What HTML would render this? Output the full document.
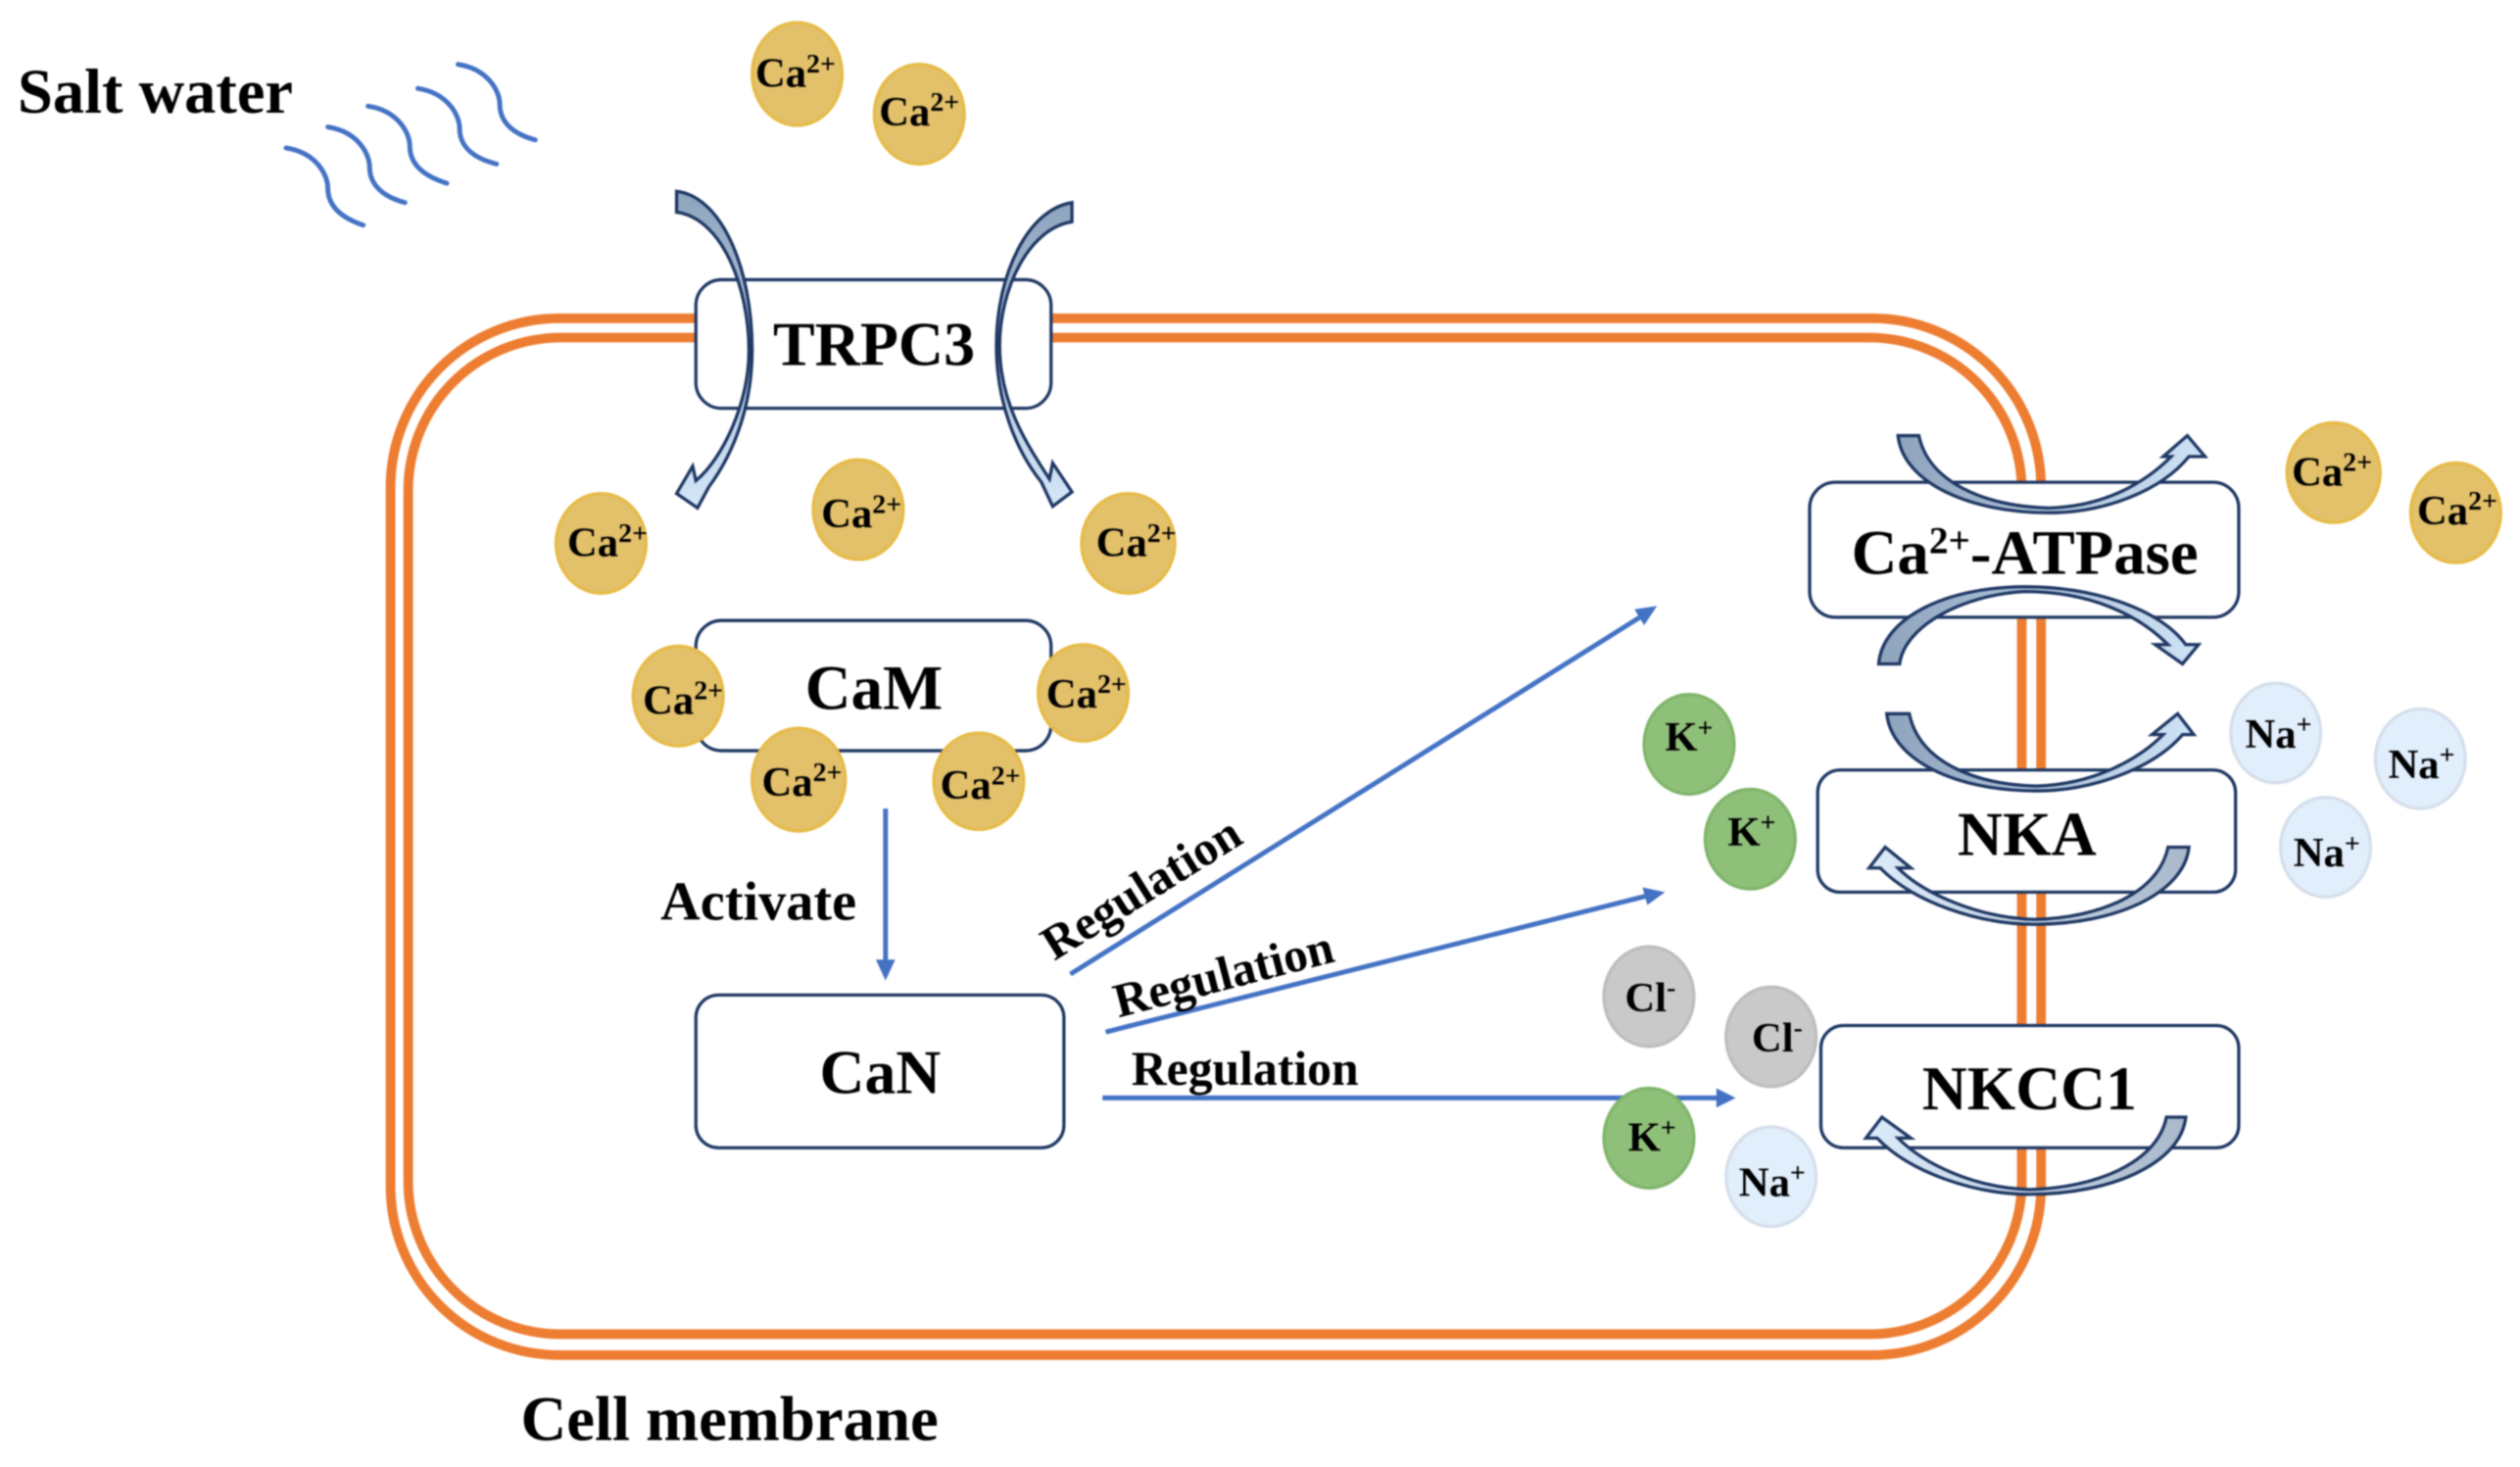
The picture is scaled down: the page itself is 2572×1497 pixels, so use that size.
<!DOCTYPE html>
<html>
<head>
<meta charset="utf-8">
<style>
html,body{margin:0;padding:0;background:#fff;width:2572px;height:1497px;overflow:hidden}
svg{display:block;filter:blur(.8px)}
text{font-family:"Liberation Serif",serif;font-weight:bold;fill:#000}
.i{font-size:26px}
.i tspan{font-size:17px}
.b{fill:#fff;stroke:#1f3864;stroke-width:2}
.m{fill:none;stroke:#ed7d31;stroke-width:6}
.ca{fill:#e3c06a;stroke:#e6bb48;stroke-width:2}
.k{fill:#8fc07a;stroke:#7fb56a;stroke-width:2}
.cl{fill:#c9c9c9;stroke:#bdbdbd;stroke-width:2}
.na{fill:#e1eefb;stroke:#d5dfeb;stroke-width:2}
.w{fill:none;stroke:#4472c4;stroke-width:3;stroke-linecap:round}
.l{stroke:#4472c4;stroke-width:3;fill:none}
.h{fill:#4472c4}
.a{stroke:#1f3864;stroke-width:2;stroke-linejoin:miter}
</style>
</head>
<body>
<svg xmlns="http://www.w3.org/2000/svg" width="2572" height="1497" viewBox="0 0 1568 912.6">
<defs>
<linearGradient id="gv" x1="0" y1="0" x2="0" y2="1"><stop offset="0" stop-color="#8ea4bd"/><stop offset="1" stop-color="#d4e6f8"/></linearGradient>
<linearGradient id="gr" x1="0" y1="0" x2="1" y2="0"><stop offset="0" stop-color="#8ea3bc"/><stop offset="1" stop-color="#cfe3f6"/></linearGradient>
<linearGradient id="gl" x1="1" y1="0" x2="0" y2="0"><stop offset="0" stop-color="#a9b8ca"/><stop offset="1" stop-color="#dcebfa"/></linearGradient>
</defs>
<rect width="1568" height="912.6" fill="#fff"/>

<!-- waves -->
<g class="w">
<path d="M178,92 C197,95 204,109 204,117 C204,127 211,135 226,140"/>
<path d="M204,79 C223,82 230,96 230,104 C230,114 237,122 252,126"/>
<path d="M229,66 C248,69 255,83 255,91 C255,101 262,109 278,114"/>
<path d="M260,55 C279,58 286,72 286,80 C286,90 293,98 309,102"/>
<path d="M285,40 C304,43 311,57 311,65 C311,75 318,83 333,87"/>
</g>

<!-- membrane -->
<rect class="m" x="243" y="198" width="1027" height="645" rx="105" ry="105"/>
<rect class="m" x="254" y="210" width="1004" height="620" rx="95" ry="95"/>

<!-- boxes -->
<rect class="b" x="433" y="174" width="221" height="80" rx="16"/>
<rect class="b" x="433" y="386" width="221" height="81" rx="16"/>
<rect class="b" x="433" y="619" width="229" height="95" rx="14"/>
<rect class="b" x="1126" y="300" width="267" height="84" rx="16"/>
<rect class="b" x="1131" y="479" width="260" height="76" rx="14"/>
<rect class="b" x="1133" y="638" width="260" height="76" rx="14"/>

<!-- blue arrows -->
<line class="l" x1="551" y1="503" x2="551" y2="600"/>
<polygon class="h" points="545,597 557,597 551,610"/>
<line class="l" x1="666" y1="606" x2="1022" y2="383"/>
<polygon class="h" points="1031,377 1017,379 1023,389"/>
<line class="l" x1="688" y1="642" x2="1026" y2="557"/>
<polygon class="h" points="1036,555 1022,552 1025,563"/>
<line class="l" x1="686" y1="683" x2="1070" y2="683"/>
<polygon class="h" points="1080,683 1068,677 1068,689"/>

<!-- block arrows -->
<path class="a" fill="url(#gv)" d="M421,119 C448,122 468,165 468,218 C468,250 458,280 441,303 L434,316 L421,307 L431,290 L433,299 C450,285 466,250 466,218 C466,180 450,136 421,132 Z"/>
<path class="a" fill="url(#gv)" d="M667,126 C640,130 620,170 620,215 C620,250 632,280 648,300 L655,315 L667,306 L655,288 L653,298 C638,275 622,250 622,215 C622,180 640,142 667,138 Z"/>
<path class="a" fill="url(#gr)" d="M1181,271 C1184,300 1225,319 1275,319 C1310,319 1345,305 1362,284 L1372,284 L1361,271 L1346,284 L1351,284 C1335,300 1310,315 1275,316 C1235,315 1200,300 1194,271 Z"/>
<path class="a" fill="url(#gr)" d="M1169,413 C1171,385 1210,365 1260,365 C1305,365 1345,380 1360,401 L1368,401 L1358,413 L1341,401 L1349,401 C1330,382 1300,368 1260,368 C1220,370 1185,390 1182,413 Z"/>
<path class="a" fill="url(#gr)" d="M1174,444 C1177,473 1217,492 1267,492 C1302,492 1340,478 1358,457 L1365,457 L1355,444 L1339,457 L1346,457 C1330,473 1302,488 1267,489 C1227,488 1194,473 1188,444 Z"/>
<path class="a" fill="url(#gl)" d="M1362,527 C1359,556 1316,575 1266,575 C1231,575 1190,561 1170,540 L1163,540 L1173,527 L1189,540 L1181,540 C1197,556 1231,571 1266,572 C1306,571 1343,556 1349,527 Z"/>
<path class="a" fill="url(#gl)" d="M1360,695 C1357,724 1313,743 1263,743 C1228,743 1188,729 1168,708 L1161,708 L1171,695 L1189,708 L1181,708 C1197,724 1228,739 1263,740 C1303,739 1342,724 1348,695 Z"/>

<!-- ions -->
<ellipse class="ca" cx="496" cy="46" rx="28" ry="32"/>
<ellipse class="ca" cx="572" cy="71" rx="28" ry="31"/>
<ellipse class="ca" cx="374" cy="338" rx="28" ry="31"/>
<ellipse class="ca" cx="534" cy="317" rx="28" ry="31"/>
<ellipse class="ca" cx="702" cy="338" rx="29" ry="31"/>
<ellipse class="ca" cx="422" cy="433" rx="28" ry="31"/>
<ellipse class="ca" cx="674" cy="431" rx="28" ry="30"/>
<ellipse class="ca" cx="497" cy="485" rx="29" ry="32"/>
<ellipse class="ca" cx="609" cy="486" rx="28" ry="30"/>
<ellipse class="ca" cx="1452" cy="294" rx="29" ry="31"/>
<ellipse class="ca" cx="1528" cy="319" rx="28" ry="31"/>
<ellipse class="k" cx="1051" cy="463" rx="28" ry="31"/>
<ellipse class="k" cx="1089" cy="522" rx="28" ry="31"/>
<ellipse class="k" cx="1026" cy="708" rx="28" ry="31"/>
<ellipse class="cl" cx="1026" cy="620" rx="28" ry="31"/>
<ellipse class="cl" cx="1102" cy="645" rx="28" ry="31"/>
<ellipse class="na" cx="1416" cy="456" rx="28" ry="31"/>
<ellipse class="na" cx="1506" cy="472" rx="28" ry="31"/>
<ellipse class="na" cx="1447" cy="527" rx="28" ry="31"/>
<ellipse class="na" cx="1102" cy="732" rx="28" ry="31"/>

<!-- ion labels -->
<text class="i" x="470" y="54">Ca<tspan dy="-9">2+</tspan></text>
<text class="i" x="547" y="78">Ca<tspan dy="-9">2+</tspan></text>
<text class="i" x="353" y="346">Ca<tspan dy="-9">2+</tspan></text>
<text class="i" x="511" y="328">Ca<tspan dy="-9">2+</tspan></text>
<text class="i" x="682" y="346">Ca<tspan dy="-9">2+</tspan></text>
<text class="i" x="400" y="444">Ca<tspan dy="-9">2+</tspan></text>
<text class="i" x="651" y="440">Ca<tspan dy="-9">2+</tspan></text>
<text class="i" x="474" y="495">Ca<tspan dy="-9">2+</tspan></text>
<text class="i" x="585" y="497">Ca<tspan dy="-9">2+</tspan></text>
<text class="i" x="1426" y="302">Ca<tspan dy="-9">2+</tspan></text>
<text class="i" x="1504" y="326">Ca<tspan dy="-9">2+</tspan></text>
<text class="i" x="1036" y="467">K<tspan dy="-9">+</tspan></text>
<text class="i" x="1075" y="526">K<tspan dy="-9">+</tspan></text>
<text class="i" x="1013" y="716">K<tspan dy="-9">+</tspan></text>
<text class="i" x="1011" y="629">Cl<tspan dy="-9">-</tspan></text>
<text class="i" x="1090" y="654">Cl<tspan dy="-9">-</tspan></text>
<text class="i" x="1397" y="465">Na<tspan dy="-9">+</tspan></text>
<text class="i" x="1486" y="484">Na<tspan dy="-9">+</tspan></text>
<text class="i" x="1427" y="539">Na<tspan dy="-9">+</tspan></text>
<text class="i" x="1082" y="744">Na<tspan dy="-9">+</tspan></text>

<!-- main labels -->
<text x="481" y="227" font-size="39">TRPC3</text>
<text x="501" y="441" font-size="39.5">CaM</text>
<text x="510" y="680" font-size="38.8">CaN</text>
<text x="1152" y="357" font-size="39.5">Ca<tspan font-size="24" dy="-13">2+</tspan><tspan dy="13">-ATPase</tspan></text>
<text x="1218" y="532" font-size="38.9">NKA</text>
<text x="1196" y="690" font-size="38.8">NKCC1</text>
<text x="11" y="70" font-size="39.3">Salt water</text>
<text x="324" y="896" font-size="39.5">Cell membrane</text>
<text x="411" y="572" font-size="34.3">Activate</text>
<text x="704" y="675" font-size="30.3">Regulation</text>
<text font-size="30" transform="translate(696,633) rotate(-14.5)">Regulation</text>
<text font-size="30" transform="translate(656,598) rotate(-32)">Regulation</text>
</svg>
</body>
</html>
